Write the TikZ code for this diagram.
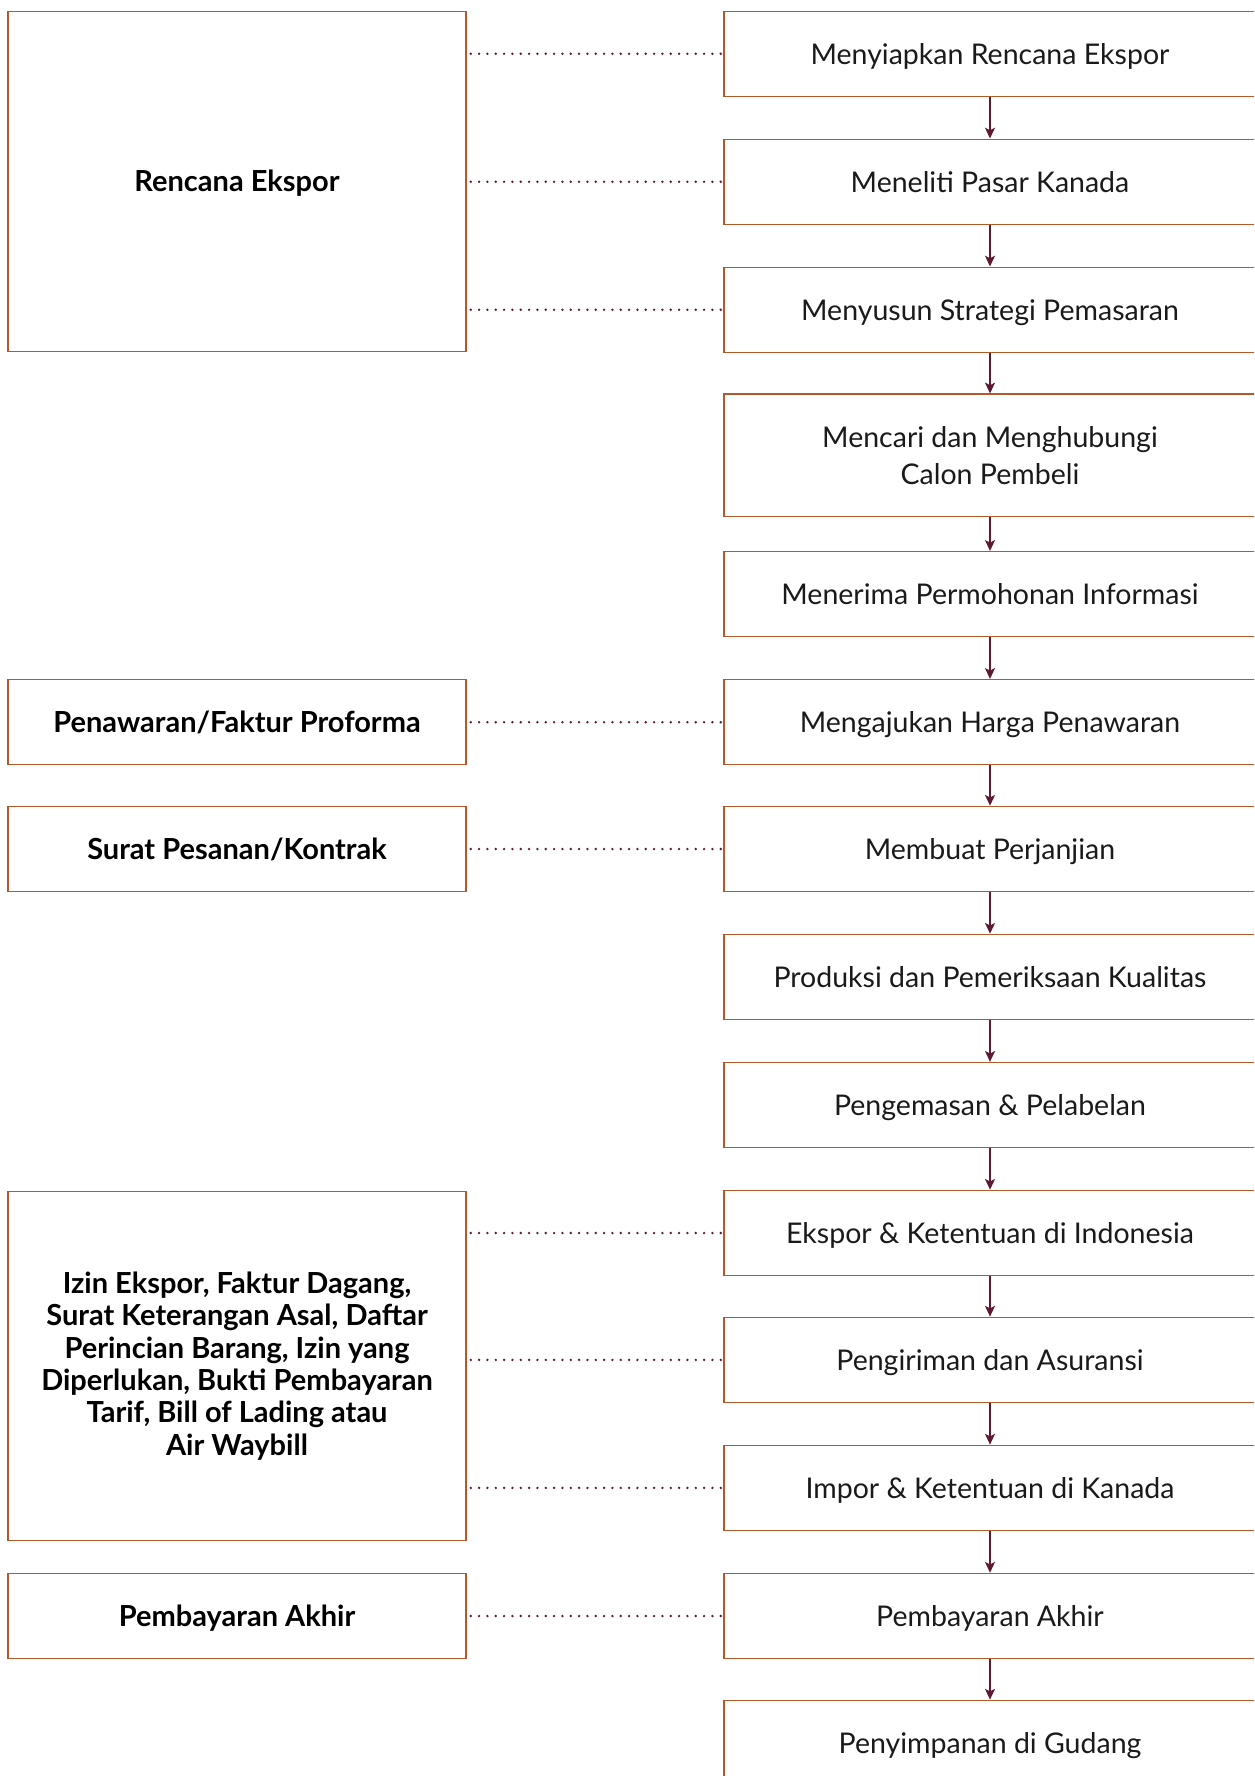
\documentclass[tikz,border=0pt]{standalone}
\usepackage{fontspec}
\setmainfont{Lato}
\usetikzlibrary{arrows.meta}
\definecolor{boxc}{HTML}{B5582A}
\definecolor{arrc}{HTML}{5E1A34}
\definecolor{txtc}{HTML}{1A1A1A}
\begin{document}
\begin{tikzpicture}[x=0.6pt,y=-0.6pt,
  rbox/.style={draw=boxc, line width=0.9pt, minimum width=319.2pt, minimum height=51pt,
    align=center, inner sep=0pt, text=txtc, font=\fontsize{17.1}{22.4}\selectfont},
  lbox/.style={draw=boxc, line width=0.9pt, minimum width=274.8pt, minimum height=51pt,
    align=center, inner sep=0pt, text=black, font=\fontsize{17.4}{19.4}\selectfont\bfseries},
  one/.style={text height=12.3pt, text depth=0pt},
  arr/.style={draw=arrc, line width=0.8pt, -{Stealth[length=6.5pt,width=6pt,inset=1.5pt]}},
  dots/.style={draw=arrc, line width=1.6pt, line cap=round, dash pattern=on 0pt off 5pt}]
\useasboundingbox (0,0) rectangle (1254,1776);
\clip (0,0) rectangle (1254,1776);
% right column
\node[rbox, one] (r1) at (990,53.8) {Menyiapkan Rencana Ekspor};
\node[rbox, one] (r2) at (990,181.8) {Meneliti Pasar Kanada};
\node[rbox, one] (r3) at (990,309.8) {Menyusun Strategi Pemasaran};
\node[rbox, minimum height=73.4pt] (r4) at (990,455.4) {Mencari dan Menghubungi\\Calon Pembeli};
\node[rbox, one] (r5) at (990,594.2) {Menerima Permohonan Informasi};
\node[rbox, one] (r6) at (990,722.2) {Mengajukan Harga Penawaran};
\node[rbox, one] (r7) at (990,849) {Membuat Perjanjian};
\node[rbox, one] (r8) at (990,977) {Produksi dan Pemeriksaan Kualitas};
\node[rbox, one] (r9) at (990,1105.1) {Pengemasan \& Pelabelan};
\node[rbox, one] (r10) at (990,1233) {Ekspor \& Ketentuan di Indonesia};
\node[rbox, one] (r11) at (990,1359.9) {Pengiriman dan Asuransi};
\node[rbox, one] (r12) at (990,1487.9) {Impor \& Ketentuan di Kanada};
\node[rbox, one] (r13) at (990,1616) {Pembayaran Akhir};
\node[rbox, one] (r14) at (990,1742.9) {Penyimpanan di Gudang};
% left column
\node[lbox, one, minimum height=204pt] (lA) at (237,181.3) {Rencana Ekspor};
\node[lbox, one] (lB) at (237,722.2) {Penawaran/Faktur Proforma};
\node[lbox, one] (lC) at (237,849) {Surat Pesanan/Kontrak};
\node[lbox, minimum height=209.4pt] (lD) at (237,1366) {Izin Ekspor, Faktur Dagang,\\Surat Keterangan Asal, Daftar\\Perincian Barang, Izin yang\\Diperlukan, Bukti Pembayaran\\Tarif, Bill of Lading atau\\Air Waybill};
\node[lbox, one] (lE) at (237,1616) {Pembayaran Akhir};
% arrows
\foreach \a/\b in {r1/r2,r2/r3,r3/r4,r4/r5,r5/r6,r6/r7,r7/r8,r8/r9,r9/r10,r10/r11,r11/r12,r12/r13,r13/r14}
  \draw[arr] (\a) -- (\b);
% dotted connectors
\foreach \r in {r1,r2,r3}
  \draw[dots] ([xshift=2.4pt]lA.east |- \r.west) -- (\r.west);
\draw[dots] ([xshift=2.4pt]lB.east) -- (r6.west);
\draw[dots] ([xshift=2.4pt]lC.east) -- (r7.west);
\foreach \r in {r10,r11,r12}
  \draw[dots] ([xshift=2.4pt]lD.east |- \r.west) -- (\r.west);
\draw[dots] ([xshift=2.4pt]lE.east) -- (r13.west);
\end{tikzpicture}
\end{document}
